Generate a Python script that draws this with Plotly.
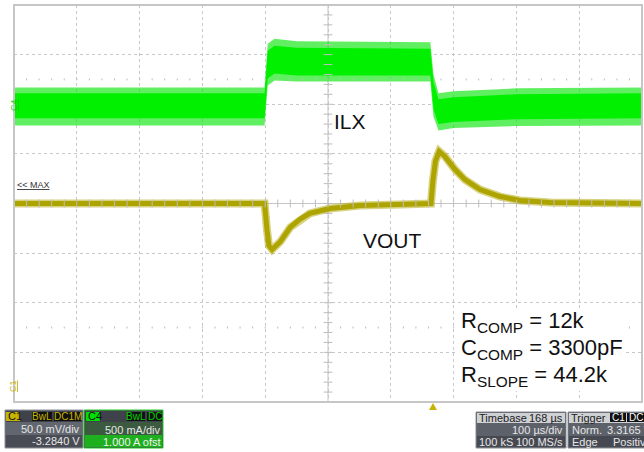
import numpy as np
import plotly.graph_objects as go

# time in microseconds (100 us/div), amplitude in divisions
GREEN_T = [0, 399, 404, 415, 450, 663, 668, 676, 700, 800, 1000]
GREEN_OUT_HI = [2.34, 2.34, 3.22, 3.32, 3.27, 3.25, 2.60, 2.22, 2.26, 2.32, 2.34]
GREEN_CORE_HI = [2.22, 2.22, 3.08, 3.18, 3.14, 3.12, 2.45, 2.10, 2.14, 2.20, 2.22]
GREEN_CORE_LO = [1.72, 1.72, 2.52, 2.62, 2.58, 2.58, 1.90, 1.60, 1.64, 1.70, 1.72]
GREEN_OUT_LO = [1.57, 1.57, 2.38, 2.48, 2.46, 2.46, 1.75, 1.47, 1.52, 1.56, 1.57]

YEL_T = [0, 399, 403, 406, 411, 424, 440, 455, 471, 503, 551, 615, 664,
         667, 671, 677, 686, 702, 718, 742, 774, 806, 854, 1000]
YEL_V = [0.0, 0.0, -0.55, -0.85, -0.93, -0.77, -0.48, -0.32, -0.20, -0.10, -0.04,
         -0.02, 0.0, 0.45, 0.85, 1.05, 0.95, 0.69, 0.48, 0.28, 0.14, 0.06, 0.02, 0.0]

L, R, T, B = 14, 642, 5, 402
FONT = "Liberation Sans, Arial, sans-serif"


def px(x):
    return (x - L) / (R - L)


def py(y):
    return (B - y) / (B - T)


fig = go.Figure()

# green (ILX) band: fringe then core
fig.add_trace(go.Scatter(x=GREEN_T, y=GREEN_OUT_HI, mode="lines", line=dict(width=0), hoverinfo="skip"))
fig.add_trace(go.Scatter(x=GREEN_T, y=GREEN_OUT_LO, mode="lines", line=dict(width=0),
                         fill="tonexty", fillcolor="rgba(10,230,10,0.65)", hoverinfo="skip"))
fig.add_trace(go.Scatter(x=GREEN_T, y=GREEN_CORE_HI, mode="lines", line=dict(width=0), hoverinfo="skip"))
fig.add_trace(go.Scatter(x=GREEN_T, y=GREEN_CORE_LO, mode="lines", line=dict(width=0),
                         fill="tonexty", fillcolor="#00f000", hoverinfo="skip"))

# yellow (VOUT) trace
fig.add_trace(go.Scatter(x=YEL_T, y=YEL_V, mode="lines", line=dict(color="rgba(175,166,0,0.5)", width=8),
                         hoverinfo="skip"))
fig.add_trace(go.Scatter(x=YEL_T, y=YEL_V, mode="lines", line=dict(color="#ada400", width=5),
                         hoverinfo="skip"))

# center axes with minor ticks
tx, ty = [], []
for t in np.arange(0, 1001, 20):
    tx += [t, t, None]
    ty += [-0.08, 0.08, None]
for v in np.arange(-4, 4.01, 0.2):
    tx += [493, 507, None]
    ty += [v, v, None]
for row in (2.5, -2.5):
    for t in np.arange(20, 1000, 20):
        tx += [t, t, None]
        ty += [row - 0.02, row + 0.02, None]
fig.add_trace(go.Scatter(x=tx, y=ty, mode="lines", line=dict(color="#bdbdbd", width=1), hoverinfo="skip"))

shapes = [
    dict(type="line", xref="x", yref="y", x0=0, x1=1000, y0=0, y1=0, line=dict(color="#c4c4c4", width=1),
         layer="below"),
    dict(type="line", xref="x", yref="y", x0=500, x1=500, y0=-4, y1=4, line=dict(color="#c4c4c4", width=1),
         layer="below"),
    dict(type="rect", xref="paper", yref="paper", x0=0, x1=1, y0=0, y1=1, line=dict(color="#c6c6c6", width=2)),
    # white box behind component values
    dict(type="rect", xref="paper", yref="paper", x0=px(457), x1=px(626), y0=py(391), y1=py(309),
         fillcolor="white", line=dict(width=0), layer="above"),
    # trigger marker
    dict(type="path", xref="paper", yref="paper",
         path=f"M {px(429)},{py(410)} L {px(437)},{py(410)} L {px(433)},{py(403)} Z",
         fillcolor="#c8b400", line=dict(width=0)),
]


def box(x0, x1, y0, y1, color, line=None):
    shapes.append(dict(type="rect", xref="paper", yref="paper", x0=px(x0), x1=px(x1), y0=py(y1), y1=py(y0),
                       fillcolor=color, line=dict(color=line or color, width=1 if line else 0)))


annotations = []


def label(x, y, text, color="#e6e6e6", anchor="right", size=11, bg=None):
    annotations.append(dict(xref="paper", yref="paper", x=px(x), y=py(y), text=text, showarrow=False,
                            xanchor=anchor, yanchor="middle", font=dict(family=FONT, size=size, color=color),
                            bgcolor=bg, borderpad=0))


# C1 box
box(5, 83, 410, 448, "#4b4e57", "#8c9098")
box(6, 82, 411, 422, "#3f424a")
box(6, 82, 422, 435, "#62666f")
box(6, 82, 435, 447, "#494c55")
box(6, 20, 412, 421, "#c8b400")
box(32, 52, 412, 421, "#111111")
box(54, 81, 412, 421, "#111111")
label(7, 416.5, "C1", "#111111", "left")
label(42, 416.5, "BwL", "#c8b400", "center", 10)
label(67.5, 416.5, "DC1M", "#c8b400", "center", 10)
label(81, 429, "50.0 mV/div")
label(81, 441, "-3.2840 V")

# C4 box
box(84, 163, 410, 448, "#3f424a", "#22cc22")
box(85, 162, 422, 435, "#3b5a40")
box(85, 162, 435, 447, "#1fb01f")
box(86, 100, 412, 421, "#00e000")
box(127, 145, 412, 421, "#111111")
box(147, 162, 412, 421, "#111111")
label(87, 416.5, "C4", "#111111", "left")
label(136, 416.5, "BwL", "#00d000", "center", 10)
label(154.5, 416.5, "DC", "#00d000", "center", 10)
label(162, 430, "500 mA/div")
label(162, 442, "1.000 A ofst", "#f0f0f0")

# Timebase box
box(476, 566, 412, 448, "#4a4e57", "#8c9098")
box(477, 565, 413, 423, "#cfd1d5")
box(477, 565, 423, 436, "#5d616a")
box(477, 565, 436, 447, "#464952")
label(478, 418, "Timebase", "#222222", "left")
label(564, 418, "168 µs", "#222222")
label(564, 430, "100 µs/div")
label(478, 442, "100 kS", anchor="left")
label(564, 442, "100 MS/s")

# Trigger box
box(568, 650, 412, 448, "#4a4e57", "#8c9098")
box(569, 650, 413, 423, "#cfd1d5")
box(569, 650, 423, 436, "#5d616a")
box(569, 650, 436, 447, "#464952")
box(610, 626, 413, 422, "#111111")
box(627, 644, 413, 422, "#111111")
label(570, 418, "Trigger", "#222222", "left")
label(618, 417.5, "C1", "#ffffff", "center", 10)
label(635.5, 417.5, "DC", "#ffffff", "center", 10)
label(571, 430, "Norm.", anchor="left")
label(606, 430, "3.3165 V", anchor="left")
label(571, 442, "Edge", anchor="left")
label(612, 442, "Positive", anchor="left")

# in-plot labels
label(350, 121, "ILX", "#111111", "center", 21)
label(392, 241, "VOUT", "#111111", "center", 21)
label(460, 322, "R<sub>COMP</sub> = 12k", "#111111", "left", 22)
label(460, 349, "C<sub>COMP</sub> = 3300pF", "#111111", "left", 22)
label(460, 376, "R<sub>SLOPE</sub> = 44.2k", "#111111", "left", 22)
label(16, 185, "<u><< MAX</u>", "#333333", "left", 9)
annotations.append(dict(xref="paper", yref="paper", x=px(7), y=py(97), text="<u>C4</u>", showarrow=False,
                        textangle=-90, font=dict(family=FONT, size=9, color="#00d000")))
annotations.append(dict(xref="paper", yref="paper", x=px(6), y=py(394), text="<u>C1</u>", showarrow=False,
                        textangle=-90, font=dict(family=FONT, size=9, color="#c8b400")))

fig.update_layout(
    width=644,
    height=452,
    autosize=False,
    margin=dict(l=L, r=644 - R, t=T, b=452 - B),
    paper_bgcolor="white",
    plot_bgcolor="white",
    showlegend=False,
    shapes=shapes,
    annotations=annotations,
)
fig.update_xaxes(range=[0, 1000], dtick=100, showgrid=True, gridcolor="#c8c8c8", griddash="dot",
                 gridwidth=1, showticklabels=False, zeroline=False, fixedrange=True)
fig.update_yaxes(range=[-4, 4], dtick=1, showgrid=True, gridcolor="#c8c8c8", griddash="dot",
                 gridwidth=1, showticklabels=False, zeroline=False, fixedrange=True)

fig.write_html("out.html", config={"displayModeBar": False},
               post_script="document.body.style.margin='0';document.body.style.overflow='hidden';")
